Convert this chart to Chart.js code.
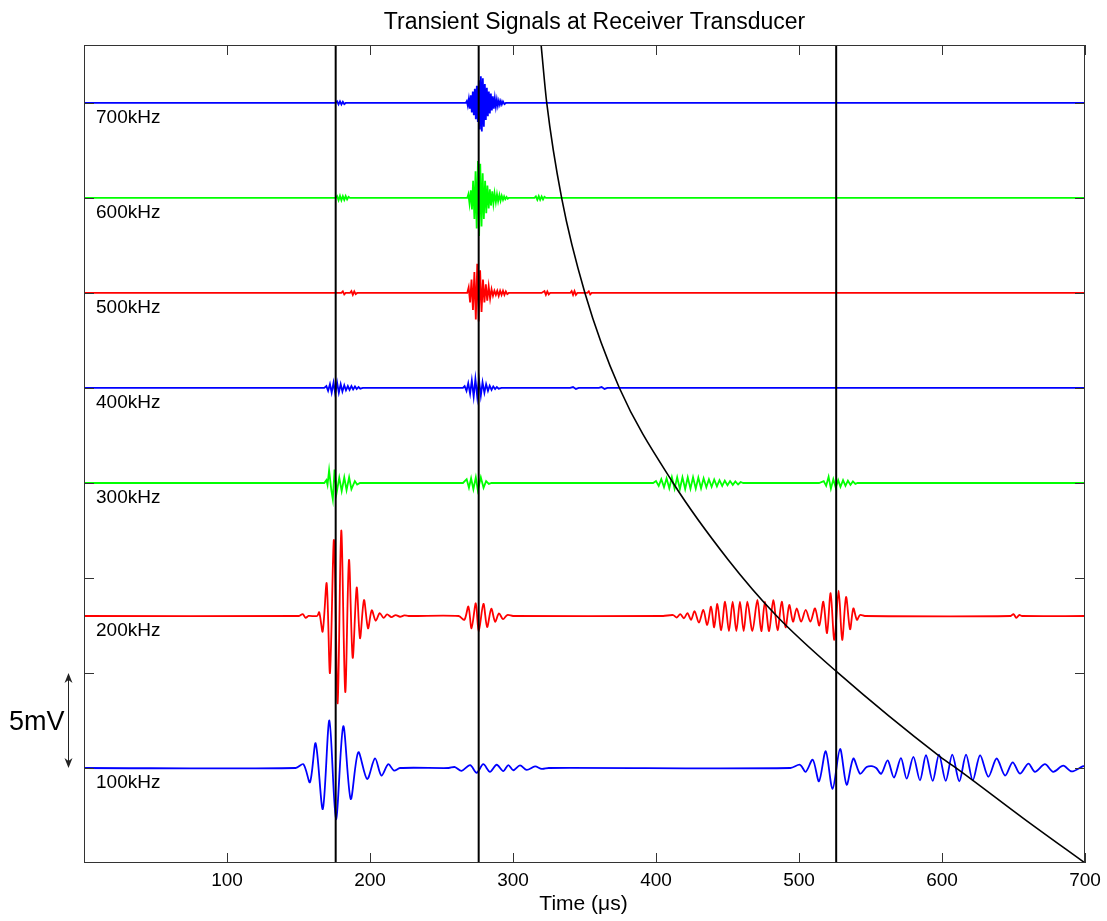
<!DOCTYPE html>
<html>
<head>
<meta charset="utf-8">
<title>Transient Signals at Receiver Transducer</title>
<script src="https://cdn.jsdelivr.net/npm/chart.js@4.4.1/dist/chart.umd.min.js"></script>
<style>
  html, body { margin: 0; padding: 0; background: #fff; }
  canvas { display: block; }
</style>
</head>
<body>
<canvas id="myChart" width="1107" height="921"></canvas>
<script>
// tick values
var xTicks = [100, 200, 300, 400, 500, 600, 700];
var yTicks = [5, 10, 15, 20, 25, 30, 35, 40];

// trace names and the baseline (mV) each trace is drawn around
var traceNames = ["100kHz", "200kHz", "300kHz", "400kHz", "500kHz", "600kHz", "700kHz"];
var offsets = [5, 13, 20, 25, 30, 35, 40];

// arrival times (us) of the vertical markers
var markers = [176, 276, 526];

// black arrival curve: time (us), level (mV)
var curveT = [319.6, 323.6, 334, 350.3, 374.4, 412, 450.6, 484.4, 526.3, 598.6, 612.6, 656.9, 700];
var curveV = [43.1, 40, 35, 30, 25, 20, 15.95, 13, 10.07, 5.6, 4.85, 2.35, 0];

// waveforms: [time us, signal mV]
var w100 = [
  [0, 0], [148, 0], [153.4, 0.2], [158, -0.75], [162, 1.3], [167, -2.16], [171.6, 2.5], [176.2, -2.7],
  [181.3, 2.2], [186.5, -1.63], [191.8, 0.83], [198, -0.58], [203.5, 0.5], [208, -0.4], [212.8, 0.2],
  [216.8, -0.14], [221, 0],
  [255, 0], [259.4, 0.05], [264, -0.15], [270, 0.15], [274.6, -0.25], [279.2, 0.2], [283.9, -0.2],
  [288.6, 0.17], [293.2, -0.16], [296.7, 0.15], [300.2, -0.12], [304.9, 0.14], [309.6, -0.1],
  [315.4, 0.08], [320.1, -0.05], [325, 0],
  [494, 0], [500.7, 0.17], [504.7, -0.2], [509.6, 0.44], [514, -0.7], [518.7, 0.88], [523.5, -1.1],
  [528.7, 1.0], [533.3, -0.88], [538, 0.5], [542.7, -0.3], [547.3, 0.05], [551, 0.1], [554, 0],
  [557.5, -0.3], [562, 0.4], [566.4, -0.5], [571.3, 0.52], [575.3, -0.56], [580, 0.58], [584.6, -0.65],
  [588.8, 0.67], [593.5, -0.68], [597.9, 0.7], [602.6, -0.68], [607.2, 0.7], [612.1, -0.7], [616.8, 0.7],
  [621.5, -0.65], [626.6, 0.67], [632.4, -0.46], [638.2, 0.5], [644.1, -0.4], [649.4, 0.3], [654.5, -0.3],
  [660.4, 0.23], [665, -0.2], [672, 0.2], [677.8, -0.2], [684.8, 0.12], [690.7, -0.18], [698.8, 0.1],
  [700, 0.08]
];
var w200 = [
  [0, 0], [150, 0], [153, 0.1], [155, -0.1], [157, 0], [163, 0], [164.5, 0.2], [166.9, -0.82],
  [169.7, 1.72], [172, -3.0], [174.8, 4.0], [177.4, -4.6], [179.9, 4.5], [182.7, -4.0], [185.3, 2.95],
  [187.9, -2.2], [190.7, 1.5], [193, -1.17], [195.8, 0.84], [198.6, -0.65], [201.2, 0.3], [204, -0.25],
  [206.8, 0.15], [209.5, -0.1], [212, 0.08], [215, -0.06], [218, 0.05], [221, -0.04], [224, 0.03], [227, 0],
  [262, 0], [266, -0.2], [268.8, 0.5], [271, -0.65], [274, 0.67], [276, -0.83], [279.3, 0.64],
  [281.9, -0.58], [284.8, 0.38], [287.5, -0.3], [290.2, 0.14], [293, -0.17], [296, 0.05], [300, 0],
  [405, 0], [412, 0.05], [414.5, -0.08], [417, 0.1], [419.5, -0.12], [422, 0.15], [424.5, -0.2],
  [427, 0.25], [430, -0.35], [433.1, 0.32], [435.8, -0.47], [438.5, 0.49], [440.7, -0.6], [442.9, 0.63],
  [445.6, -0.75], [448.3, 0.75], [451, -0.8], [453.6, 0.75], [456.2, -0.8], [458.7, 0.75], [461.3, -0.8],
  [463.9, 0.75], [467.4, -0.78], [470.9, 0.84], [473.6, -0.8], [476.2, 0.75], [479.1, -0.8], [482, 0.84],
  [485, -0.75], [487.9, 0.75], [490.6, -0.6], [493.2, 0.58], [495.8, -0.3], [498.4, 0.4], [501.5, -0.3],
  [504.7, 0.32], [508, -0.3], [511.2, 0.4], [514.2, -0.5], [517, 0.75], [519.6, -0.9], [522.1, 1.2],
  [524.7, -1.26], [527.7, 1.33], [530.2, -1.26], [532.9, 1.0], [535.7, -0.7], [538, 0.4], [540.5, -0.2],
  [542.7, 0.05], [546, 0],
  [648, 0], [650, 0.1], [652, -0.1], [654, 0.05], [656, 0], [700, 0]
];
var w300 = [
  [0, 0], [168, 0], [169.5, 0.15], [170.3, -0.1], [171.4, 0.67], [173, -0.4], [174, -0.86], [175.2, 0.7],
  [176.7, -0.5], [178.5, 0.28], [180.2, -0.42], [182, 0.3], [183.6, -0.38], [185.4, 0.3], [187, -0.33],
  [189.4, 0.1], [191, -0.08], [193, 0],
  [265, 0], [267.6, 0.2], [269.2, -0.25], [270.7, 0.25], [272.3, -0.33], [274, 0.3], [275.4, -0.38],
  [277.5, 0.3], [279.4, -0.25], [281.2, 0.1], [283.1, -0.05], [285, 0],
  [398, 0], [400, 0.1], [401.9, -0.15], [403.7, 0.2], [405.6, -0.22], [407.4, 0.25], [409.3, -0.28],
  [411.1, 0.3], [413, -0.3], [414.8, 0.3], [416.7, -0.32], [418.5, 0.3], [420.4, -0.32], [422.2, 0.3],
  [424.1, -0.3], [425.9, 0.3], [427.8, -0.3], [429.6, 0.28], [431.5, -0.28], [433.3, 0.25], [435.2, -0.22],
  [437, 0.2], [438.9, -0.2], [440.7, 0.18], [442.6, -0.18], [444.4, 0.15], [446.3, -0.15], [448.1, 0.12],
  [450, -0.12], [451.8, 0.1], [453.7, -0.1], [455.5, 0.08], [457.4, -0.08], [459.2, 0.05], [461, 0],
  [514, 0], [517.3, 0.1], [519, -0.15], [520.7, 0.33], [522.3, -0.3], [524, 0.2], [525.7, -0.25],
  [527.4, 0.15], [529, -0.2], [530.8, 0.15], [532.5, -0.15], [534.2, 0.12], [536, -0.1], [537.7, 0.08],
  [539.4, -0.05], [541, 0], [700, 0]
];
var w400 = [
  [0, 0], [168, 0], [169.5, 0.1], [170.7, -0.15], [172, 0.2], [173.2, -0.25], [174.5, 0.28], [175.7, -0.3],
  [177, 0.28], [178.2, -0.25], [179.5, 0.2], [180.7, -0.18], [182, 0.15], [183.2, -0.12], [184.5, 0.1],
  [185.7, -0.1], [187, 0.1], [188.2, -0.08], [189.5, 0.08], [190.7, -0.06], [192, 0.05], [193.2, -0.04],
  [195, 0],
  [265, 0], [266.2, 0.1], [267.5, -0.15], [268.7, 0.25], [270, -0.3], [271.2, 0.4], [272.5, -0.45],
  [273.7, 0.47], [275, -0.47], [276.2, 0.45], [277.5, -0.4], [278.7, 0.3], [280, -0.25], [281.2, 0.2],
  [282.5, -0.15], [283.7, 0.12], [285, -0.1], [286.2, 0.08], [287.5, -0.06], [288.7, 0.05], [290, -0.04],
  [292, 0],
  [340, 0], [342, 0.05], [344, -0.05], [346, 0], [360, 0], [362, 0.05], [364, -0.05], [366, 0], [700, 0]
];
var w500 = [
  [0, 0], [180, 0], [181, 0.08], [182, -0.08], [183, 0], [186, 0], [187, 0.1], [188, -0.1], [189, 0.08],
  [190, -0.06], [191, 0],
  [268, 0], [269, 0.3], [270, -0.5], [271, 0.7], [272, -0.9], [273, 1.1], [274, -1.4], [275, 1.54],
  [276, -1.5], [277, 1.2], [278, -1.0], [279, 0.7], [280, -0.5], [281, 0.45], [282, -0.4], [283, 0.35],
  [284, -0.3], [285, 0.2], [286, -0.15], [287, 0.12], [288, -0.1], [289, 0.12], [290, -0.15], [291, 0.12],
  [292, -0.1], [293, 0.12], [294, -0.1], [295, 0.08], [296, -0.06], [297, 0],
  [320, 0], [322, 0.1], [323, -0.1], [324, 0.08], [325, -0.08], [326, 0], [340, 0], [341, 0.1],
  [342, -0.1], [343, 0.1], [344, -0.1], [345, 0], [352, 0], [353, 0.08], [354, -0.08], [355, 0], [700, 0]
];
var w600 = [
  [0, 0], [176, 0], [177, 0.1], [178, -0.12], [179, 0.12], [180, -0.12], [181, 0.1], [182, -0.1],
  [183, 0.1], [184, -0.08], [185, 0.06], [186, 0],
  [268, 0], [268.8, 0.2], [269.6, -0.3], [270.5, 0.4], [271.3, -0.6], [272.1, 0.9], [273, -1.1],
  [273.8, 1.4], [274.6, -1.6], [275.5, 1.95], [276.3, -2.0], [277.1, 1.8], [278, -1.5], [278.8, 1.3],
  [279.6, -1.1], [280.5, 0.9], [281.3, -0.8], [282.1, 0.65], [283, -0.55], [283.8, 0.45], [284.6, -0.4],
  [285.5, 0.35], [286.3, -0.3], [287.1, 0.25], [288, -0.22], [288.8, 0.2], [289.6, -0.18], [290.5, 0.16],
  [291.3, -0.14], [292.1, 0.12], [293, -0.1], [293.8, 0.08], [294.6, -0.07], [295.5, 0.05], [296.3, -0.04],
  [297, 0],
  [315, 0], [316, 0.08], [317, -0.1], [318, 0.1], [319, -0.1], [320, 0.08], [321, -0.08], [322, 0.06],
  [323, 0], [700, 0]
];
var w700 = [
  [0, 0], [176, 0], [177, 0.08], [178, -0.08], [179, 0.08], [180, -0.08], [181, 0.06], [182, -0.06],
  [183, 0],
  [267, 0], [267.7, 0.1], [268.4, -0.15], [269.1, 0.2], [269.8, -0.3], [270.5, 0.4], [271.2, -0.5],
  [271.9, 0.6], [272.6, -0.65], [273.3, 0.75], [274, -0.85], [274.7, 0.9], [275.4, -1.0], [276.1, 1.2],
  [276.8, -1.4], [277.5, 1.4], [278.2, -1.5], [278.9, 1.3], [279.6, -1.25], [280.3, 1.0], [281, -0.9],
  [281.7, 0.8], [282.4, -0.7], [283.1, 0.6], [283.8, -0.55], [284.5, 0.5], [285.2, -0.4], [285.9, 0.35],
  [286.6, -0.3], [287.3, 0.25], [288, -0.2], [288.7, 0.18], [289.4, -0.15], [290.1, 0.12], [290.8, -0.1],
  [291.5, 0.1], [292.2, -0.08], [293, 0.08], [294, -0.06], [295, 0], [700, 0]
];

var waves = [w100, w200, w300, w400, w500, w600, w700];
var colors = ["#0000ff", "#ff0000", "#00ff00", "#0000ff", "#ff0000", "#00ff00", "#0000ff"];
// smoothing only for the slow traces, the fast ones are dense enough
var tensions = [0.3, 0.3, 0, 0, 0, 0, 0];

var Y_MAX = 43.05;
var FONT = '"Liberation Sans", Arial, Helvetica, sans-serif';

document.addEventListener("DOMContentLoaded", function () {
  var ctx = document.getElementById("myChart").getContext("2d");

  var datasets = [];

  // black marker lines and arrival curve sit on top of the traces
  markers.forEach(function (t) {
    datasets.push({
      data: [{ x: t, y: 0 }, { x: t, y: Y_MAX }],
      borderColor: "#000",
      borderWidth: 2,
      order: 0,
    });
  });
  datasets.push({
    data: curveT.map(function (t, i) { return { x: t, y: curveV[i] }; }),
    borderColor: "#000",
    borderWidth: 1.6,
    cubicInterpolationMode: "monotone",
    order: 0,
  });

  waves.forEach(function (w, i) {
    datasets.push({
      label: traceNames[i],
      data: w.map(function (p) { return { x: p[0], y: p[1] + offsets[i] }; }),
      borderColor: colors[i],
      borderWidth: 1.8,
      tension: tensions[i],
      order: 1,
    });
  });

  // frame, inward ticks, labels, title and the 5mV scale arrow
  var decor = {
    id: "decor",
    afterDraw: function (chart) {
      var c = chart.ctx, a = chart.chartArea, xs = chart.scales.x, ys = chart.scales.y;
      c.save();
      c.strokeStyle = "#333";
      c.lineWidth = 1;
      c.strokeRect(a.left + 0.5, a.top + 0.5, a.right - a.left - 1, a.bottom - a.top - 1);

      c.beginPath();
      xTicks.forEach(function (v) {
        var px = Math.round(xs.getPixelForValue(v)) + 0.5;
        c.moveTo(px, a.bottom); c.lineTo(px, a.bottom - 10);
        c.moveTo(px, a.top); c.lineTo(px, a.top + 10);
      });
      yTicks.forEach(function (v) {
        var py = Math.round(ys.getPixelForValue(v)) + 0.5;
        c.moveTo(a.left, py); c.lineTo(a.left + 10, py);
        c.moveTo(a.right, py); c.lineTo(a.right - 10, py);
      });
      c.stroke();

      c.fillStyle = "#000";
      c.textBaseline = "alphabetic";
      c.textAlign = "left";
      c.font = "19px " + FONT;
      traceNames.forEach(function (n, i) {
        c.fillText(n, xs.getPixelForValue(0) + 12, ys.getPixelForValue(offsets[i]) + 20);
      });

      c.textAlign = "center";
      c.font = "23px " + FONT;
      c.fillText("Transient Signals at Receiver Transducer", (a.left + a.right) / 2 + 10, 29);
      c.font = "21px " + FONT;
      c.fillText("Time (\u03bcs)", (a.left + a.right) / 2 - 1, 910);

      // 5mV scale arrow
      var ax = 68.5, y1 = ys.getPixelForValue(10), y2 = ys.getPixelForValue(5);
      c.strokeStyle = "#222";
      c.beginPath();
      c.moveTo(ax, y1 + 2); c.lineTo(ax, y2 - 2);
      c.stroke();
      c.fillStyle = "#222";
      c.beginPath();
      c.moveTo(ax, y1); c.lineTo(ax - 4, y1 + 10); c.lineTo(ax, y1 + 7); c.lineTo(ax + 4, y1 + 10);
      c.closePath(); c.fill();
      c.beginPath();
      c.moveTo(ax, y2); c.lineTo(ax - 4, y2 - 10); c.lineTo(ax, y2 - 7); c.lineTo(ax + 4, y2 - 10);
      c.closePath(); c.fill();
      c.fillStyle = "#000";
      c.textAlign = "left";
      c.font = "27px " + FONT;
      c.fillText("5mV", 9, ys.getPixelForValue(7.5) + 10);
      c.restore();
    },
  };

  var myChart = new Chart(ctx, {
    type: "line",
    data: { datasets: datasets },
    options: {
      responsive: false,
      animation: false,
      devicePixelRatio: 1,
      layout: { padding: { left: 84, right: 22, top: 45, bottom: 0 } },
      elements: { point: { radius: 0 } },
      plugins: { legend: { display: false }, tooltip: { enabled: false }, title: { display: false } },
      scales: {
        x: {
          type: "linear",
          min: 0,
          max: 700,
          afterBuildTicks: function (s) { s.ticks = xTicks.map(function (v) { return { value: v }; }); },
          afterFit: function (s) { s.height = 58; },
          grid: { display: false, drawTicks: false },
          border: { display: false },
          ticks: { color: "#000", font: { family: FONT, size: 19 }, padding: 6, maxRotation: 0, autoSkip: false },
        },
        y: {
          type: "linear",
          min: 0,
          max: Y_MAX,
          display: false,
        },
      },
    },
    plugins: [decor],
  });
});
</script>
</body>
</html>
